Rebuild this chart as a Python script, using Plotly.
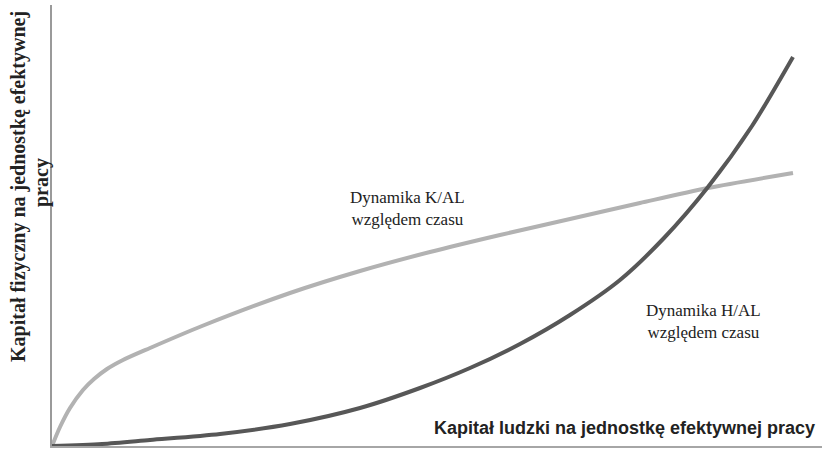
import plotly.graph_objects as go

# K/AL curve (light grey)
k_x = [0, 8, 18, 31, 42, 55, 71, 98, 150, 238, 308, 378, 448, 518, 588, 656, 741]
k_y = [0, 19, 38, 56, 67, 77, 86, 98, 120, 153, 175, 194, 211, 227, 243, 258, 273]

# H/AL curve (dark grey)
h_x = [0, 50, 98, 168, 238, 308, 368, 418, 468, 518, 568, 612, 656, 700, 741]
h_y = [0, 2, 6, 12, 22, 38, 58, 78, 102, 131, 166, 208, 259, 320, 389]

fig = go.Figure()
fig.add_trace(go.Scatter(x=k_x, y=k_y, mode="lines",
                         line=dict(color="#b2b2b2", width=4, shape="spline", smoothing=0.8),
                         hoverinfo="skip"))
fig.add_trace(go.Scatter(x=h_x, y=h_y, mode="lines",
                         line=dict(color="#575757", width=4, shape="spline", smoothing=0.8),
                         hoverinfo="skip"))

fig.update_layout(
    width=822, height=452,
    margin=dict(l=52, r=0, t=5, b=6, autoexpand=False),
    paper_bgcolor="white", plot_bgcolor="white",
    showlegend=False,
    xaxis=dict(range=[0, 770], showgrid=False, zeroline=False, showticklabels=False, ticks="",
               showline=True, linecolor="#a6a6a6", linewidth=2, fixedrange=True),
    yaxis=dict(range=[0, 441], showgrid=False, zeroline=False, showticklabels=False, ticks="",
               showline=True, linecolor="#9a9a9a", linewidth=1.5, fixedrange=True),
)

serif = "Liberation Serif, Times New Roman, serif"


def pix(px, py):
    return (px - 52) / 770, (446 - py) / 441


def note(px, py, text, family, size, angle=0):
    ax, ay = pix(px, py)
    fig.add_annotation(x=ax, y=ay, xref="x domain", yref="y domain", text=text,
                       showarrow=False, textangle=angle, xanchor="center", yanchor="middle",
                       font=dict(family=family, size=size, color="#222"))


note(18, 187, "<b>Kapitał fizyczny na jednostkę efektywnej</b>", serif, 20, -90)
note(41, 183, "<b>pracy</b>", serif, 20, -90)
note(624, 428, "<b>Kapitał ludzki na jednostkę efektywnej pracy</b>",
     "Liberation Sans, Arial, sans-serif", 18)
note(407, 209, "Dynamika K/AL<br>względem czasu", serif, 17)
note(703, 321, "Dynamika H/AL<br>względem czasu", serif, 17)

fig.write_html("out.html", config={"displayModeBar": False},
               post_script="document.body.style.margin='0';")
